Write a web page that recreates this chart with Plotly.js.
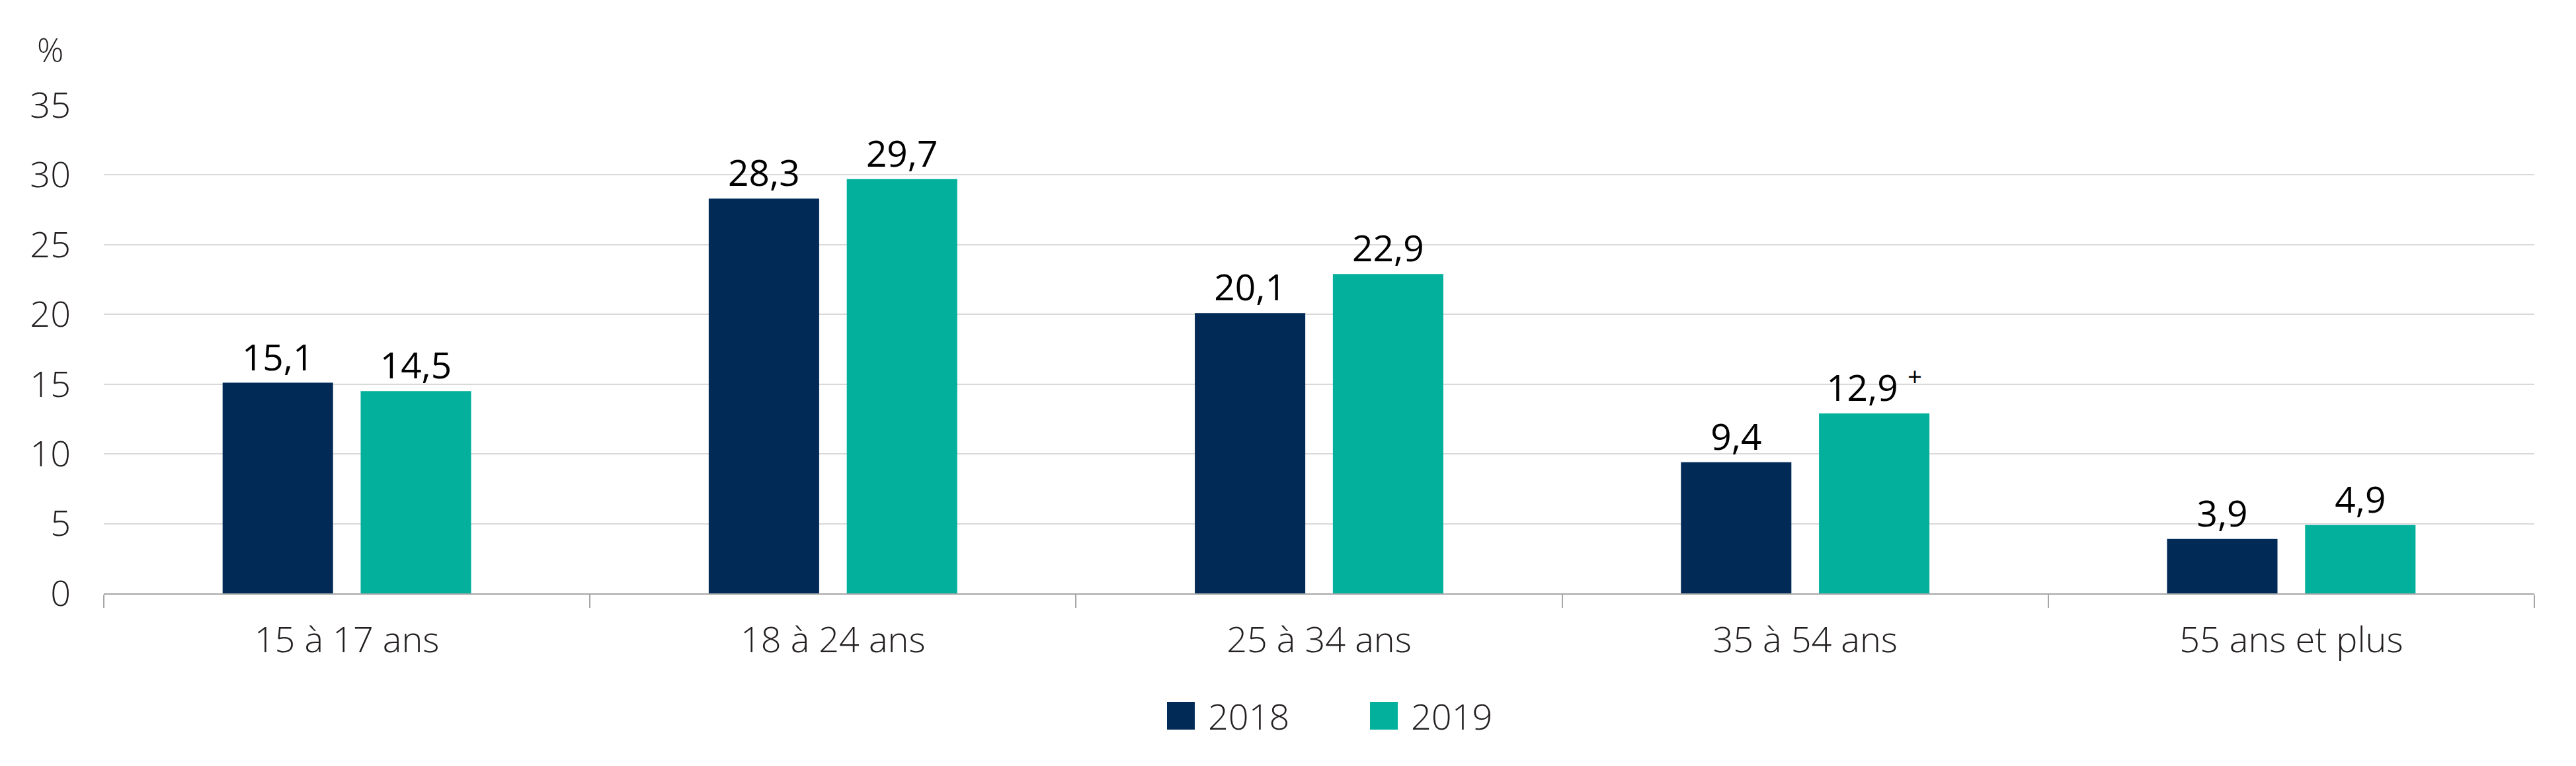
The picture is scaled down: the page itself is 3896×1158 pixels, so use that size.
<!DOCTYPE html>
<html>
<head>
<meta charset="utf-8">
<script src="https://cdn.plot.ly/plotly-3.0.1.min.js"></script>
<style>
  html, body { margin: 0; padding: 0; background: #fff; }
  #chart { width: 3896px; height: 1158px; }
</style>
</head>
<body>
<div id="chart"></div>
<script>
// categories and series
const categories = ['15 à 17 ans', '18 à 24 ans', '25 à 34 ans', '35 à 54 ans', '55 ans et plus'];
const seriesNames = ['2018', '2019'];
const values2018 = [15.1, 28.3, 20.1, 9.4, 3.9];
const values2019 = [14.5, 29.7, 22.9, 12.9, 4.9];
const notes2019 = ['', '', '', '+', ''];
const yTicks = [0, 5, 10, 15, 20, 25, 30, 35];
const colors = ['#022a57', '#02b09c'];

const W = 3896, H = 1158;
const M = { l: 157, r: 63, t: 159, b: 261 };
const plotW = W - M.l - M.r, plotH = H - M.t - M.b;

// pixel -> paper coords for the hand made legend
const px = x => (x - M.l) / plotW;
const py = y => (H - M.b - y) / plotH;

function fmt(v, note) {
    let s = v.toFixed(1).replace('.', ',');
    if (note) s += ' <sup>' + note + '</sup>';
    return s;
}

const labelFont = { family: 'Open Sans', size: 55, color: '#000' };

const data = [
    {
        type: 'bar', name: seriesNames[0], x: categories, y: values2018,
        marker: { color: colors[0] },
        text: values2018.map(v => fmt(v, '')),
        textposition: 'outside', textfont: labelFont,
        cliponaxis: false, hoverinfo: 'none', showlegend: false
    },
    {
        type: 'bar', name: seriesNames[1], x: categories, y: values2019,
        marker: { color: colors[1] },
        text: values2019.map((v, i) => fmt(v, notes2019[i])),
        textposition: 'outside', textfont: labelFont,
        cliponaxis: false, hoverinfo: 'none', showlegend: false
    }
];

// legend drawn by hand so the squares can be big
const legendX = [1765, 2072];
const shapes = [], annotations = [];
seriesNames.forEach((name, i) => {
    shapes.push({
        type: 'rect', xref: 'paper', yref: 'paper',
        x0: px(legendX[i]), x1: px(legendX[i] + 42),
        y0: py(1103), y1: py(1061),
        fillcolor: colors[i], line: { width: 0 }
    });
    annotations.push({
        xref: 'paper', yref: 'paper', x: px(legendX[i] + 60), y: py(1082),
        xanchor: 'left', yanchor: 'middle', showarrow: false,
        text: name, font: { family: 'Open Sans', size: 54, color: '#231f20', weight: 300 }
    });
});
annotations.push({
    xref: 'paper', yref: 'paper', x: px(76), y: py(75),
    xanchor: 'center', yanchor: 'middle', showarrow: false,
    text: '%', font: { family: 'Open Sans', size: 50, color: '#231f20', weight: 300 }
});

const layout = {
    width: W, height: H,
    margin: M,
    paper_bgcolor: '#fff', plot_bgcolor: '#fff',
    barmode: 'group', bargap: 0.432, bargroupgap: 0.2,
    showlegend: false,
    xaxis: {
        type: 'category', tickson: 'boundaries',
        ticks: 'outside', ticklen: 20, tickwidth: 2, tickcolor: '#a6a6a6',
        showline: true, linecolor: '#a6a6a6', linewidth: 2,
        showgrid: false, zeroline: false,
        ticklabelstandoff: 22,
        tickfont: { family: 'Open Sans', size: 54, color: '#231f20', weight: 300 }
    },
    yaxis: {
        range: [0, 35], tickvals: yTicks, ticktext: yTicks.map(String),
        showgrid: true, gridcolor: '#d9d9d9', gridwidth: 2,
        zeroline: false, showline: false, ticks: '',
        ticklabelstandoff: 49,
        tickfont: { family: 'Open Sans', size: 54, color: '#231f20', weight: 300 }
    },
    shapes: shapes,
    annotations: annotations,
    uniformtext: { mode: false }
};

Plotly.newPlot('chart', data, layout, { staticPlot: true });
</script>
</body>
</html>
